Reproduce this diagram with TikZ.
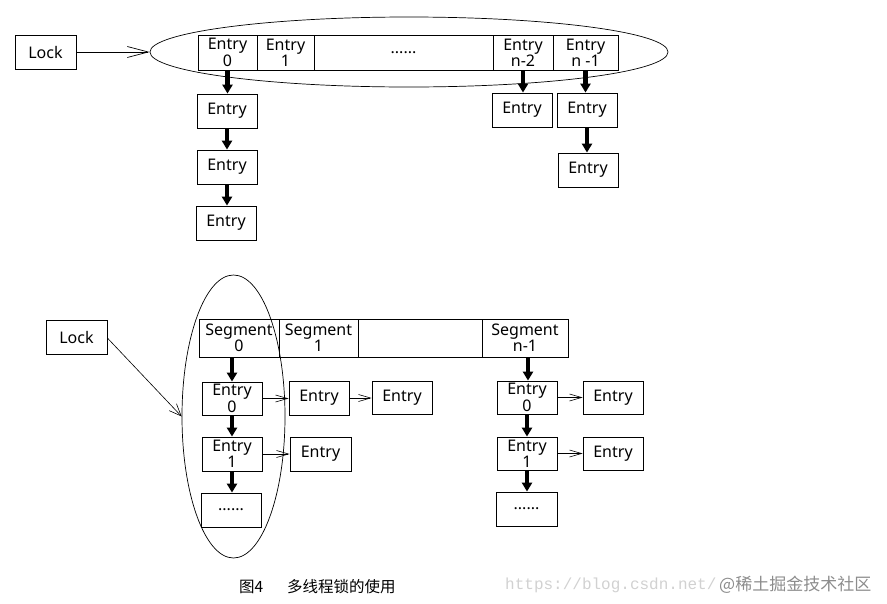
\documentclass[tikz,border=0pt]{standalone}
\usepackage{fontspec}
\setmainfont{Noto Sans}
\newfontfamily\cjk{Noto Sans CJK SC}
\newfontfamily\wmono{Liberation Mono}
\usetikzlibrary{arrows.meta,shapes.geometric}
\begin{document}
\begin{tikzpicture}[x=1pt,y=-1pt,
  box/.style={draw,line width=0.8pt,inner sep=0pt,minimum width=60pt,minimum height=34pt,
    align=center,font=\fontsize{16}{14.5}\selectfont},
  thick arrow/.style={line width=4.5pt,-{Triangle[length=9pt,width=10pt]}},
  thin arrow/.style={line width=0.6pt,-{Straight Barb[length=12pt,width=7pt]}},
  lock arrow/.style={line width=0.7pt,-{Straight Barb[length=21pt,width=11pt]}},
  ring/.style={draw,ellipse,line width=0.7pt,inner sep=0pt}]
\useasboundingbox (0,0) rectangle (887,603);
% ---------- top ----------
\node[ring,minimum width=518pt,minimum height=70pt] (ell1) at (409,52) {};
\node[box,minimum width=61pt] (lock1) at (45.5,52) {Lock};
\node[box,minimum width=59pt,minimum height=35pt] (c0) at (227.5,52.5) {Entry\\0};
\node[box,minimum width=57pt,minimum height=35pt] (c1) at (285.5,52.5) {Entry\\1};
\node[box,minimum width=179pt,minimum height=35pt] (cd) at (403.5,52.5) {......};
\node[box,minimum width=60pt,minimum height=35pt] (cn2) at (523,52.5) {Entry\\n-2};
\node[box,minimum width=65pt,minimum height=35pt] (cn1) at (585.5,52.5) {Entry\\n -1};
\node[box] (e0a) at (227,111) {Entry};
\node[box] (e0b) at (227,167) {Entry};
\node[box] (e0c) at (226,223) {Entry};
\node[box] (en2) at (522,110) {Entry};
\node[box] (en1a) at (587,110) {Entry};
\node[box] (en1b) at (588,170) {Entry};
\draw[lock arrow] (lock1.east) -- (ell1.west);
\draw[thick arrow] (c0.south) -- (c0.south |- e0a.north);
\draw[thick arrow] (e0a.south) -- (e0a.south |- e0b.north);
\draw[thick arrow] (e0b.south) -- (e0b.south |- e0c.north);
\draw[thick arrow] (cn2.south) -- (cn2.south |- en2.north);
\draw[thick arrow] (cn1.south) -- (cn1.south |- en1a.north);
\draw[thick arrow] (en1a.south) -- (en1a.south |- en1b.north);
% ---------- bottom ----------
\node[ring,minimum width=103pt,minimum height=283pt] (ell2) at (233.5,416.5) {};
\node[box,minimum width=61pt] (lock2) at (76.5,337) {Lock};
\node[box,minimum width=80pt,minimum height=38pt] (s0) at (239,338) {Segment\\0};
\node[box,minimum width=79pt,minimum height=38pt] (s1) at (318.5,338) {Segment\\1};
\node[box,minimum width=124pt,minimum height=38pt] (sd) at (420,338) {};
\node[box,minimum width=86pt,minimum height=38pt] (sn1) at (525,338) {Segment\\n-1};
\node[box,minimum height=33pt] (b0) at (232,398.5) {Entry\\0};
\node[box] (b1) at (232,454) {Entry\\1};
\node[box] (b2) at (231,510) {......};
\node[box] (r00) at (319,398) {Entry};
\node[box,minimum height=33pt] (r01) at (402,397.5) {Entry};
\node[box,minimum width=61pt] (r10) at (320.5,454) {Entry};
\node[box,minimum height=33pt] (m0) at (527,397.5) {Entry\\0};
\node[box,minimum height=33pt] (m1) at (527,453.5) {Entry\\1};
\node[box,minimum width=61pt] (m2) at (526.5,509) {......};
\node[box,minimum height=33pt] (mr0) at (613,397.5) {Entry};
\node[box,minimum height=33pt] (mr1) at (613,453.5) {Entry};
\coordinate (lk2) at ([yshift=-1pt]lock2.east);
\draw[line width=0.6pt,-{Straight Barb[length=12pt,width=10pt]}] (lk2) -- (ell2.west);
\draw[thick arrow] (b0.north |- s0.south) -- (b0.north);
\draw[thick arrow] (b0.south) -- (b1.north);
\draw[thick arrow] (b1.south) -- (b1.south |- b2.north);
\draw[thick arrow] ([xshift=1pt]m0.north |- sn1.south) -- ([xshift=1pt]m0.north);
\draw[thick arrow] (m0.south) -- (m1.north);
\draw[thick arrow] (m1.south) -- (m1.south |- m2.north);
\draw[thin arrow] (b0.east) -- (b0.east -| r00.west);
\draw[thin arrow] (r00.east) -- (r00.east -| r01.west);
\draw[thin arrow] (b1.east) -- (b1.east -| r10.west);
\draw[thin arrow] (m0.east) -- (mr0.west);
\draw[thin arrow] (m1.east) -- (mr1.west);
% ---------- caption ----------
\node[font=\cjk\fontsize{15.5}{15.5}\selectfont,anchor=west,inner sep=0pt] (fig) at (239,587) {图4};
\node[font=\cjk\fontsize{15.5}{15.5}\selectfont,anchor=west,inner sep=0pt] (cap) at (287,587) {多线程锁的使用};
\node[font=\wmono\fontsize{16}{16}\selectfont,text=black!18,anchor=west,inner sep=0pt] (wm1) at (505,585) {https://blog.csdn.net/};
\node[font=\cjk\fontsize{17}{17}\selectfont,text=black!45,anchor=west,inner sep=0pt] (wm2) at (719,585) {@稀土掘金技术社区};
\end{tikzpicture}
\end{document}
